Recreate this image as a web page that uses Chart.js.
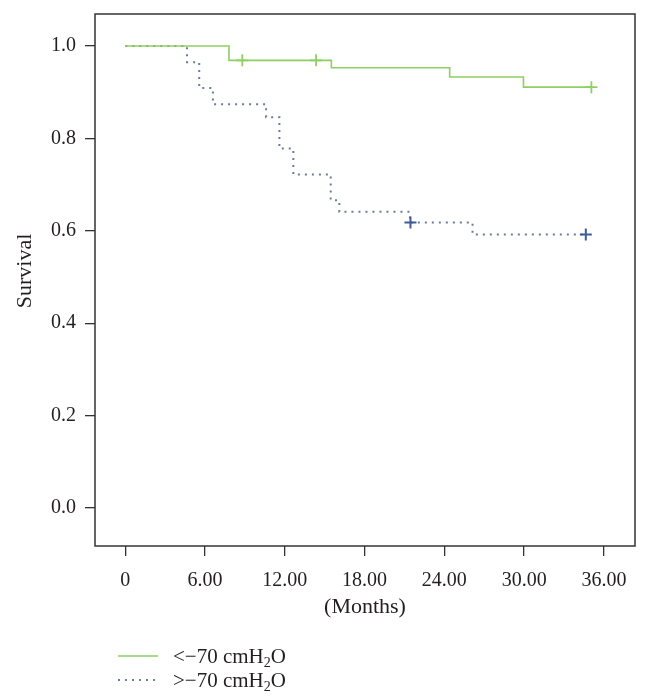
<!DOCTYPE html>
<html>
<head>
<meta charset="utf-8">
<script src="https://cdn.jsdelivr.net/npm/chart.js@4/dist/chart.umd.min.js"></script>
<style>
  html, body { margin: 0; padding: 0; background: #fff; }
</style>
</head>
<body>
<canvas id="km-chart" width="650" height="699"></canvas>
<script>
// tick labels
const xTicks = [0, 6, 12, 18, 24, 30, 36];
const yTicks = [0, 0.2, 0.4, 0.6, 0.8, 1.0];

// < -70 cmH2O group (solid green)
const lowMonths = [0, 7.8, 15.5, 24.4, 29.95, 35.06];
const lowSurvival = [1.0, 0.969, 0.953, 0.933, 0.911, 0.911];
const lowCensorMonths = [8.8, 14.35, 35.06];
const lowCensorSurvival = [0.969, 0.969, 0.911];

// > -70 cmH2O group (dotted blue)
const highMonths = [0, 4.64, 5.56, 6.59, 10.59, 11.59, 12.64, 15.45, 16.1, 21.41, 26.12, 34.64];
const highSurvival = [1.0, 0.965, 0.909, 0.874, 0.846, 0.778, 0.722, 0.666, 0.641, 0.618, 0.592, 0.592];
const highCensorMonths = [21.45, 34.64];
const highCensorSurvival = [0.618, 0.592];

const xTitle = '(Months)';
const yTitle = 'Survival';
const legendNames = [['<\u221270 cmH', '2', 'O'], ['>\u221270 cmH', '2', 'O']];

const FONT = '"Liberation Serif", "DejaVu Serif", serif';
const TEXT = '#231f20';
const GREEN = '#8dcf63';
const BLUE_LINE = '#6c7c96';
const BLUE_MARK = '#3d5c98';

const toPoints = (xs, ys) => xs.map((x, i) => ({ x: x, y: ys[i] }));

// keep the plot box where the reference has it
const noPad = s => { s.paddingTop = 0; s.paddingBottom = 0; s.paddingLeft = 0; s.paddingRight = 0; };

// box, axis titles and legend
const extras = {
    id: 'extras',
    afterDraw(chart) {
        const ctx = chart.ctx;
        const a = chart.chartArea;
        ctx.save();
        ctx.strokeStyle = '#333';
        ctx.lineWidth = 1.5;
        ctx.strokeRect(a.left, a.top, a.right - a.left, a.bottom - a.top);

        ctx.fillStyle = TEXT;
        ctx.font = '22px ' + FONT;
        ctx.textAlign = 'center';
        ctx.textBaseline = 'middle';
        ctx.fillText(xTitle, (a.left + a.right) / 2, 607);

        ctx.save();
        ctx.translate(25, 271);
        ctx.rotate(-Math.PI / 2);
        ctx.fillText(yTitle, 0, 0);
        ctx.restore();

        // legend
        const rows = [656, 680];
        ctx.lineWidth = 1.5;
        ctx.strokeStyle = GREEN;
        ctx.beginPath();
        ctx.moveTo(118, rows[0]);
        ctx.lineTo(158, rows[0]);
        ctx.stroke();
        ctx.strokeStyle = BLUE_LINE;
        ctx.lineWidth = 2;
        ctx.setLineDash([2, 5]);
        ctx.beginPath();
        ctx.moveTo(118, rows[1]);
        ctx.lineTo(158, rows[1]);
        ctx.stroke();
        ctx.setLineDash([]);

        ctx.textAlign = 'left';
        ctx.textBaseline = 'alphabetic';
        legendNames.forEach((parts, i) => {
            let x = 173;
            const base = rows[i] + 7;
            ctx.font = '21px ' + FONT;
            ctx.fillText(parts[0], x, base);
            x += ctx.measureText(parts[0]).width;
            ctx.font = '14px ' + FONT;
            ctx.fillText(parts[1], x, base + 4);
            x += ctx.measureText(parts[1]).width;
            ctx.font = '21px ' + FONT;
            ctx.fillText(parts[2], x, base);
        });
        ctx.restore();
    }
};

const ctx = document.getElementById('km-chart').getContext('2d');
new Chart(ctx, {
    type: 'line',
    data: {
        datasets: [
            {
                data: toPoints(lowCensorMonths, lowCensorSurvival),
                showLine: false,
                pointStyle: 'cross',
                pointRadius: 6,
                borderColor: GREEN,
                borderWidth: 1.8
            },
            {
                data: toPoints(lowMonths, lowSurvival),
                stepped: true,
                borderColor: GREEN,
                borderWidth: 1.6,
                pointRadius: 0,
                fill: false
            },
            {
                data: toPoints(highCensorMonths, highCensorSurvival),
                showLine: false,
                pointStyle: 'cross',
                pointRadius: 6,
                borderColor: BLUE_MARK,
                borderWidth: 2
            },
            {
                data: toPoints(highMonths, highSurvival),
                stepped: true,
                borderColor: BLUE_LINE,
                borderWidth: 2,
                borderDash: [2, 5],
                pointRadius: 0,
                fill: false
            }
        ]
    },
    options: {
        responsive: false,
        animation: false,
        devicePixelRatio: 1,
        layout: { padding: { left: 0, right: 15, top: 14, bottom: 0 } },
        plugins: { legend: { display: false }, tooltip: { enabled: false } },
        scales: {
            x: {
                type: 'linear',
                min: -2.28,
                max: 38.34,
                afterBuildTicks: s => { s.ticks = xTicks.map(v => ({ value: v })); },
                afterFit: s => { s.height = 153; noPad(s); },
                border: { display: false },
                grid: { drawOnChartArea: false, tickLength: 10, color: '#333', lineWidth: 1.3 },
                ticks: {
                    padding: 13,
                    color: TEXT,
                    font: { family: FONT, size: 20 },
                    maxRotation: 0,
                    autoSkip: false,
                    callback: v => v === 0 ? '0' : v.toFixed(2)
                }
            },
            y: {
                type: 'linear',
                min: -0.0823,
                max: 1.0693,
                afterBuildTicks: s => { s.ticks = yTicks.map(v => ({ value: v })); },
                afterFit: s => { s.width = 95; noPad(s); },
                border: { display: false },
                grid: { drawOnChartArea: false, tickLength: 10, color: '#333', lineWidth: 1.3 },
                ticks: {
                    padding: 9,
                    color: TEXT,
                    font: { family: FONT, size: 20 },
                    autoSkip: false,
                    callback: v => v.toFixed(1)
                }
            }
        }
    },
    plugins: [extras]
});
</script>
</body>
</html>
